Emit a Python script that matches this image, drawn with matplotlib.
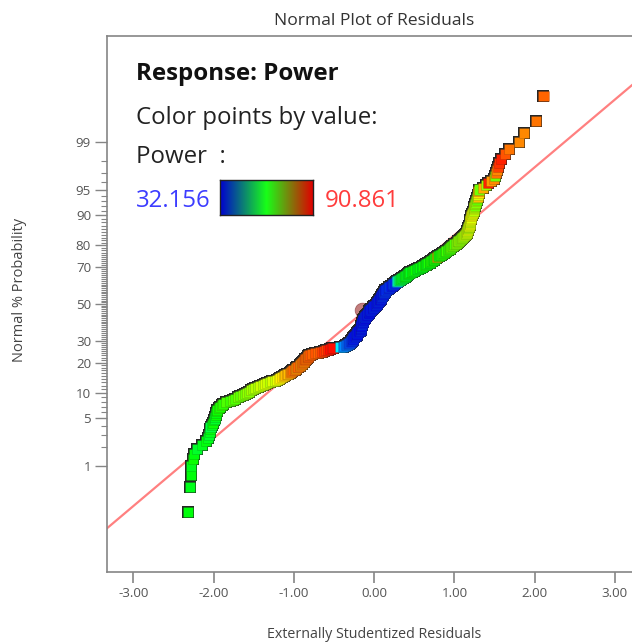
import matplotlib
matplotlib.use("Agg")
import matplotlib.pyplot as plt
import numpy as np
from matplotlib.colors import LinearSegmentedColormap, Normalize
from statistics import NormalDist

# externally studentized residuals, sorted ascending
residuals = [
    -2.32, -2.29, -2.28, -2.28, -2.26, -2.24, -2.21, -2.15, -2.10, -2.07,
    -2.06, -2.05, -2.05, -2.04,
    -2.02, -2.01, -2.00, -1.99, -1.98,
    -1.97, -1.97, -1.96, -1.96,
    -1.94, -1.92, -1.90, -1.88, -1.85,
    -1.80, -1.76,
    -1.73, -1.70, -1.67, -1.63,
    -1.61, -1.58, -1.56, -1.53, -1.51, -1.48,
    -1.45, -1.42, -1.39, -1.36, -1.33,
    -1.30, -1.27, -1.24, -1.21,
    -1.19, -1.17, -1.15, -1.13, -1.11, -1.09, -1.07, -1.05,
    -1.04, -1.02, -1.01, -0.99, -0.98, -0.97, -0.96, -0.95, -0.93, -0.92,
    -0.91, -0.90, -0.90, -0.89, -0.88, -0.87, -0.86, -0.86, -0.85, -0.84,
    -0.83, -0.83, -0.82, -0.81, -0.80,
    -0.77, -0.74, -0.70, -0.67,
    -0.65, -0.62, -0.60, -0.58, -0.55, -0.53, -0.51,
    -0.42, -0.39,
    -0.37, -0.35, -0.34, -0.33, -0.32, -0.31, -0.30,
    -0.29, -0.29, -0.28, -0.28, -0.27, -0.27, -0.26, -0.26, -0.25, -0.25,
    -0.24, -0.23, -0.23, -0.22, -0.22, -0.21, -0.21, -0.20, -0.20, -0.19,
    -0.18, -0.18, -0.17,
    -0.17, -0.17, -0.17, -0.16, -0.16, -0.16, -0.16, -0.16, -0.15, -0.15,
    -0.15, -0.15, -0.15, -0.14, -0.14, -0.14, -0.14, -0.14,
    -0.14, -0.13, -0.13, -0.12, -0.12, -0.11, -0.11, -0.10, -0.10, -0.09,
    -0.09, -0.08, -0.08, -0.07, -0.07, -0.06, -0.06, -0.06, -0.05, -0.05,
    -0.04, -0.04, -0.03, -0.02, -0.02, -0.01, 0.00, 0.00, 0.01, 0.02,
    0.02, 0.03, 0.03, 0.04,
    0.04, 0.05, 0.05, 0.06, 0.06, 0.06, 0.07, 0.07, 0.08, 0.08,
    0.08, 0.09, 0.09, 0.10, 0.10, 0.10, 0.11, 0.11, 0.11, 0.12,
    0.12, 0.12, 0.13, 0.13, 0.14, 0.14,
    0.15, 0.16, 0.17, 0.18, 0.18, 0.19, 0.20, 0.21, 0.22, 0.23,
    0.23, 0.24, 0.25, 0.26, 0.27, 0.28,
    0.29, 0.30, 0.31, 0.32, 0.33, 0.34, 0.35, 0.36, 0.37, 0.38,
    0.39, 0.40, 0.41, 0.42, 0.42, 0.43, 0.44, 0.45,
    0.47, 0.48, 0.50, 0.51, 0.53, 0.54, 0.56, 0.57, 0.59, 0.60,
    0.61, 0.63, 0.64,
    0.65, 0.66, 0.67, 0.69, 0.70, 0.71, 0.72, 0.73, 0.74, 0.75,
    0.76, 0.77, 0.78, 0.80, 0.81, 0.82,
    0.83, 0.84, 0.86, 0.87, 0.88, 0.89, 0.90, 0.92, 0.93, 0.94,
    0.95, 0.96, 0.97, 0.98, 0.99, 1.00, 1.02, 1.03,
    1.04, 1.05, 1.06, 1.07, 1.08, 1.09, 1.10, 1.11, 1.12, 1.13,
    1.14, 1.15, 1.16,
    1.16, 1.16, 1.17, 1.17, 1.17, 1.18, 1.18, 1.18, 1.19, 1.19,
    1.19, 1.20, 1.20, 1.20,
    1.21, 1.21, 1.21, 1.22, 1.22, 1.23, 1.23, 1.24, 1.24,
    1.25, 1.25, 1.26, 1.26, 1.27, 1.27, 1.28,
    1.28, 1.29, 1.29, 1.30, 1.30, 1.31,
    1.35, 1.39, 1.42, 1.45,
    1.49, 1.51, 1.52,
    1.53, 1.54, 1.56,
    1.58, 1.63, 1.68,
    1.81, 1.87, 2.02, 2.11,
]

# response value of each run, same order as residuals
power = [
    61, 60, 61, 60, 62, 61, 59, 60, 61, 60,
    59, 60, 61, 58, 60, 62, 61, 59, 60,
    62, 61, 63, 62, 64, 63, 65, 64, 66, 65, 67,
    66, 68, 67, 69, 68, 70, 69, 71, 70, 72,
    71, 73, 72, 74, 73, 72, 74, 73, 75,
    76, 77, 78, 79, 80, 81, 80,
    82, 84, 83, 85, 84, 83, 82, 84, 85, 83,
    84, 82, 83, 85, 84, 83, 84, 85, 86,
    84, 85, 84, 86, 85, 84, 86, 85, 86, 85, 86,
    87, 88, 87, 89, 90, 89, 90,
    46, 40,
    40, 38, 39, 37, 38, 36, 37, 35, 36, 34, 35, 36, 34, 33, 35,
    33, 34, 32, 35, 33, 34, 33, 32, 34, 35,
    33, 32, 34, 33, 35, 34, 32, 33, 34, 33,
    35, 33, 32, 34, 33, 36, 34, 33, 32, 34,
    33, 35, 34, 32, 33, 34, 33, 32, 35, 34,
    33, 34, 32, 33, 35, 34, 33, 32, 34, 33,
    34, 32, 33, 35, 34, 33, 32, 34, 33, 35,
    34, 33, 32, 34, 33, 35, 34, 33, 32, 34,
    33, 35, 34, 33, 32, 34, 33, 35, 34, 33,
    34, 36, 33, 35, 34, 33, 35, 34, 36, 35,
    34, 35, 33, 36, 34, 35, 33, 34, 36, 35, 34, 33, 35, 34, 36, 35, 34, 36,
    41, 48, 53, 56,
    58, 57, 59, 60, 58, 61, 59, 60, 62, 58,
    60, 61, 59, 62, 60, 61, 63, 60, 62, 61,
    59, 62, 61, 63, 60, 62, 61, 64, 62, 60,
    63, 61, 62, 64, 63, 61, 62, 63, 64, 62,
    83,
    62, 63, 61, 64, 63, 65, 64, 62, 66, 65,
    63, 67, 66, 64, 68, 65, 67, 69, 66, 68,
    70, 67, 69, 71, 68, 70, 72, 69, 71, 70,
    73, 72, 71, 74, 72, 73, 75,
    73, 71, 74, 72, 75, 73, 76, 74, 72, 75,
    73, 76, 74, 77, 75, 73, 76, 74, 72, 75,
    70, 73, 68, 71, 69, 72, 67, 70, 80, 74,
    78, 82, 68, 81, 70, 89, 82, 83, 68, 84,
    83, 87, 88, 89, 86, 84, 83, 83, 84, 85,
]

power_min = 32.156
power_max = 90.861

prob_major = [1, 5, 10, 20, 30, 50, 70, 80, 90, 95, 99]
x_ticks = [-3, -2, -1, 0, 1, 2, 3]

# fitted reference line (z = slope * r + intercept) and the highlighted run
line_slope = 0.973
line_intercept = 0.018
highlight_x = -0.15
highlight_prob = 46.5

W, H = 632, 643
plt.rcParams["font.family"] = ["Open Sans", "DejaVu Sans"]

nd = NormalDist()
n = len(residuals)
zq = [nd.inv_cdf((i + 0.5) / n) for i in range(n)]

point_cmap = LinearSegmentedColormap.from_list(
    "pts", ["#0000ff", "#00ffff", "#00ff00", "#ffff00", "#ff0000"])
bar_cmap = LinearSegmentedColormap.from_list(
    "bar", ["#0000d0", "#18ff18", "#e00000"])
norm = Normalize(power_min, power_max)

fig = plt.figure(figsize=(W / 100, H / 100), dpi=100)
ax = fig.add_axes([107 / W, (H - 572) / H, 540 / W, 536 / H])
ax.set_xlim(-3.33, 3.40)
ax.set_ylim(-3.85, 3.85)

xs = np.array([-3.4, 3.4])
ax.plot(xs, line_slope * xs + line_intercept, color="#ff8080", lw=1.6, zorder=1)
ax.scatter([highlight_x], [nd.inv_cdf(highlight_prob / 100)], s=110,
           color="#b86868", alpha=0.85, edgecolors="#9a5050", lw=0.6, zorder=2)
# dark outline layer underneath, then the coloured squares
ax.scatter(residuals, zq, color="#262626", marker="s", s=80,
           linewidths=0, zorder=3)
ax.scatter(residuals, zq, c=power, cmap=point_cmap, norm=norm, marker="s",
           s=52, edgecolors=(0.1, 0.1, 0.1, 0.2), linewidths=0.5, zorder=4)

gray = "#858585"
for side in ["left", "bottom", "top"]:
    ax.spines[side].set_color(gray)
    ax.spines[side].set_linewidth(1.2)
ax.spines["right"].set_visible(False)

ax.set_xticks(x_ticks)
ax.set_xticklabels([f"{t:.2f}" for t in x_ticks])
ax.set_yticks([nd.inv_cdf(p / 100) for p in prob_major])
ax.set_yticklabels([str(p) for p in prob_major])
minor_probs = [p for p in range(2, 99) if p not in prob_major]
ax.set_yticks([nd.inv_cdf(p / 100) for p in minor_probs], minor=True)
ax.tick_params(axis="x", length=8, width=1.2, color=gray, labelsize=9.6,
               labelcolor="#555555", pad=3)
ax.tick_params(axis="y", which="major", length=8.5, width=1.0, color=gray,
               labelsize=9.6, labelcolor="#555555", pad=3)
ax.tick_params(axis="y", which="minor", length=4, width=0.8, color=gray)

fig.text(374 / W, 1 - 21 / H, "Normal Plot of Residuals", ha="center",
         va="center", fontsize=12.6, color="#333333")
fig.text(374 / W, 1 - 635 / H, "Externally Studentized Residuals",
         ha="center", va="center", fontsize=10.3, color="#444444")
fig.text(20 / W, 1 - 290 / H, "Normal % Probability", ha="center",
         va="center", rotation=90, fontsize=10.5, color="#444444")

# colour key
fs_key = 17.3
fig.text(136 / W, 1 - 80 / H, "Response: Power", fontsize=fs_key,
         fontweight="bold", color="#111111", va="baseline")
fig.text(136 / W, 1 - 124 / H, "Color points by value:", fontsize=fs_key,
         color="#222222", va="baseline")
fig.text(136 / W, 1 - 163 / H, "Power  :", fontsize=fs_key, color="#222222",
         va="baseline")
fig.text(136 / W, 1 - 207 / H, f"{power_min:.3f}", fontsize=fs_key,
         color="#3c3cff", va="baseline")
fig.text(325 / W, 1 - 207 / H, f"{power_max:.3f}", fontsize=fs_key,
         color="#ff3c3c", va="baseline")

cax = fig.add_axes([220 / W, 1 - 215 / H, 93 / W, 35 / H])
cax.imshow(np.linspace(power_min, power_max, 256)[None, :], aspect="auto",
           cmap=bar_cmap, norm=norm)
cax.set_xticks([])
cax.set_yticks([])
for s in cax.spines.values():
    s.set_color("#222222")
    s.set_linewidth(1.0)

fig.savefig("out.png", dpi=100)
